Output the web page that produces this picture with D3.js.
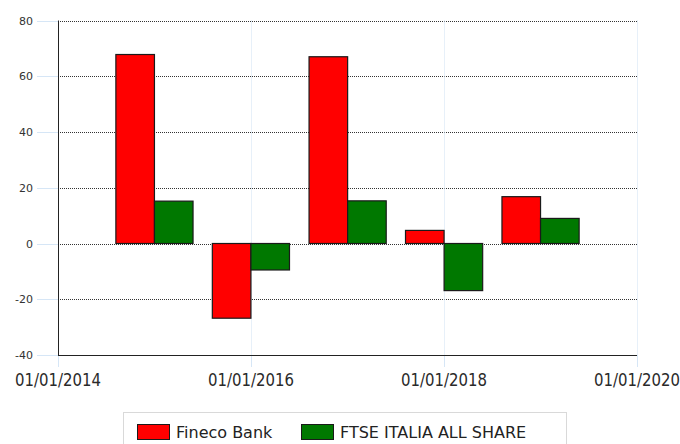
<!DOCTYPE html>
<html lang="it">
<head>
<meta charset="UTF-8">
<title>Fineco Bank vs FTSE Italia All Share</title>
<script src="https://d3js.org/d3.v7.min.js"></script>
<style>
  body { margin: 0; padding: 0; background: #fff; }
  svg { display: block; }
  text { font-family: "DejaVu Sans", Tahoma, sans-serif; }
  .xlab { font-family: "DejaVu Sans Condensed", "Liberation Sans Narrow", sans-serif; }
</style>
</head>
<body>
<script>
// dati (rendimento annuo %)
var years = ["2015-01-01", "2016-01-01", "2017-01-01", "2018-01-01", "2019-01-01"];
var fineco = [67.8, -26.8, 67.0, 4.7, 16.8];
var ftse = [15.2, -9.5, 15.3, -16.9, 9.0];
var seriesNames = ["Fineco Bank", "FTSE ITALIA ALL SHARE"];
var seriesColors = ["#ff0000", "#007800"];
var yTicks = [-40, -20, 0, 20, 40, 60, 80];
var xTicks = ["2014-01-01", "2016-01-01", "2018-01-01", "2020-01-01"];

var width = 680, height = 444;
var margin = { top: 20.5, right: 43, bottom: 89, left: 58 };

var parse = d3.timeParse("%Y-%m-%d");
var fmt = d3.timeFormat("%d/%m/%Y");

var svg = d3.select("body").append("svg")
    .attr("width", width)
    .attr("height", height);

var x = d3.scaleTime()
    .domain([parse("2014-01-01"), parse("2020-01-01")])
    .range([margin.left, width - margin.right]);

var y = d3.scaleLinear()
    .domain([-40, 80])
    .range([height - margin.bottom, margin.top]);

// larghezza barra = 0.4 anni
var barW = (x(parse("2016-01-01")) - x(parse("2014-01-01"))) / 2 * 0.4;

// griglia orizzontale tratteggiata
svg.append("g")
    .selectAll("line")
    .data(yTicks.filter(function(d) { return d > -40; }))
    .join("line")
    .attr("x1", margin.left)
    .attr("x2", width - margin.right)
    .attr("y1", function(d) { return Math.round(y(d)) + 0.5; })
    .attr("y2", function(d) { return Math.round(y(d)) + 0.5; })
    .attr("stroke", "#333")
    .attr("stroke-dasharray", "1,1");

// griglia verticale (azzurra tratteggiata)
svg.append("g")
    .selectAll("line")
    .data(xTicks.slice(1))
    .join("line")
    .attr("x1", function(d) { return Math.round(x(parse(d))) + 0.5; })
    .attr("x2", function(d) { return Math.round(x(parse(d))) + 0.5; })
    .attr("y1", margin.top)
    .attr("y2", height - margin.bottom)
    .attr("stroke", "#cfe0f2")
    .attr("stroke-dasharray", "1,1");

// tacche asse y
svg.append("g")
    .selectAll("line")
    .data(yTicks)
    .join("line")
    .attr("x1", margin.left - 21)
    .attr("x2", margin.left)
    .attr("y1", function(d) { return Math.round(y(d)) + 0.5; })
    .attr("y2", function(d) { return Math.round(y(d)) + 0.5; })
    .attr("stroke", "#d6e6f6");

svg.append("g")
    .selectAll("text")
    .data(yTicks)
    .join("text")
    .attr("x", margin.left - 25)
    .attr("y", function(d) { return y(d) + 4; })
    .attr("text-anchor", "end")
    .attr("font-size", "11px")
    .attr("fill", "#333")
    .text(function(d) { return d; });

// tacche asse x
svg.append("g")
    .selectAll("line")
    .data(xTicks)
    .join("line")
    .attr("x1", function(d) { return Math.round(x(parse(d))) + 0.5; })
    .attr("x2", function(d) { return Math.round(x(parse(d))) + 0.5; })
    .attr("y1", height - margin.bottom)
    .attr("y2", height - margin.bottom + 12)
    .attr("stroke", "#d6e6f6");

// etichette date: compresse a 86px come nell'originale
svg.append("g")
    .selectAll("text")
    .data(xTicks)
    .join("text")
    .attr("class", "xlab")
    .attr("x", function(d) { return x(parse(d)) - 43; })
    .attr("y", height - margin.bottom + 31)
    .attr("textLength", 86)
    .attr("lengthAdjust", "spacingAndGlyphs")
    .attr("font-size", "18.5px")
    .attr("fill", "#2a2a2a")
    .text(function(d) { return fmt(parse(d)); });

// barre
var data = [];
years.forEach(function(d, i) {
    data.push({ date: parse(d), value: fineco[i], s: 0 });
    data.push({ date: parse(d), value: ftse[i], s: 1 });
});

svg.append("g")
    .selectAll("rect")
    .data(data)
    .join("rect")
    .attr("x", function(d) { return x(d.date) - barW + d.s * barW; })
    .attr("width", barW)
    .attr("y", function(d) { return y(Math.max(0, d.value)); })
    .attr("height", function(d) { return Math.abs(y(d.value) - y(0)); })
    .attr("fill", function(d) { return seriesColors[d.s]; })
    .attr("stroke", "#1a1a1a")
    .attr("stroke-width", 1.2);

// assi
svg.append("line")
    .attr("x1", margin.left + 0.5).attr("x2", margin.left + 0.5)
    .attr("y1", margin.top).attr("y2", height - margin.bottom)
    .attr("stroke", "#222");
svg.append("line")
    .attr("x1", margin.left).attr("x2", width - margin.right)
    .attr("y1", Math.round(y(-40)) + 0.5).attr("y2", Math.round(y(-40)) + 0.5)
    .attr("stroke", "#222");

// legenda
var legend = svg.append("g");
legend.append("rect")
    .attr("x", 123.5).attr("y", 412.5)
    .attr("width", 443).attr("height", 40)
    .attr("fill", "#fff")
    .attr("stroke", "#d9d9d9");

var legX = [137, 301];
seriesNames.forEach(function(name, i) {
    legend.append("rect")
        .attr("x", legX[i] + 0.5).attr("y", 424.5)
        .attr("width", 32).attr("height", 15)
        .attr("fill", seriesColors[i])
        .attr("stroke", "#1a1a1a");
    legend.append("text")
        .attr("x", legX[i] + 39).attr("y", 438)
        .attr("font-size", "16px")
        .attr("fill", "#222")
        .text(name);
});
</script>
</body>
</html>
